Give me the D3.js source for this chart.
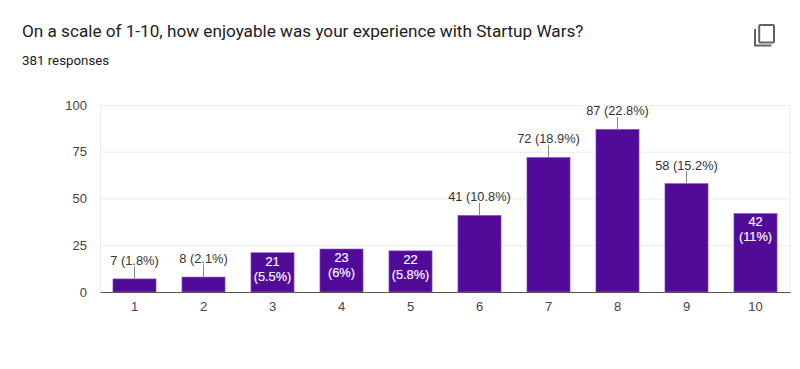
<!DOCTYPE html>
<html>
<head>
<meta charset="utf-8">
<script src="https://cdn.jsdelivr.net/npm/d3@7"></script>
<style>
  html, body { margin: 0; padding: 0; background: #fff; overflow: hidden; }
  text { font-family: "Liberation Sans", Arial, sans-serif; }
</style>
</head>
<body>
<div id="chart"></div>
<script>
const categories = ["1", "2", "3", "4", "5", "6", "7", "8", "9", "10"];
const counts = [7, 8, 21, 23, 22, 41, 72, 87, 58, 42];
const percents = ["1.8%", "2.1%", "5.5%", "6%", "5.8%", "10.8%", "18.9%", "22.8%", "15.2%", "11%"];
// these bars carry their label inside, on two lines
const insideLabels = ["3", "4", "5", "10"];
const yTicks = [0, 25, 50, 75, 100];

const width = 800;
const height = 369;
const margin = { top: 105, right: 10, bottom: 77, left: 100 };

const svg = d3
  .select("#chart")
  .append("svg")
  .attr("width", width)
  .attr("height", height)
  .style("display", "block");

const x = d3
  .scaleBand()
  .domain(categories)
  .range([margin.left, width - margin.right])
  .paddingInner(0.375)
  .paddingOuter(0.1875);

const y = d3
  .scaleLinear()
  .domain([0, 100])
  .range([height - margin.bottom, margin.top]);

// heading
svg
  .append("text")
  .attr("x", 22)
  .attr("y", 37)
  .style("font-family", "Roboto, sans-serif")
  .attr("font-size", 17.15)
  .attr("fill", "#202124")
  .text("On a scale of 1-10, how enjoyable was your experience with Startup Wars?");

svg
  .append("text")
  .attr("x", 22)
  .attr("y", 65)
  .style("font-family", "Roboto, sans-serif")
  .attr("font-size", 13.3)
  .attr("fill", "#202124")
  .text("381 responses");

// copy icon
const icon = svg.append("g").attr("transform", "translate(754,24)");
icon
  .append("rect")
  .attr("x", 5.2)
  .attr("y", 1)
  .attr("width", 14.8)
  .attr("height", 17.5)
  .attr("rx", 1)
  .attr("fill", "none")
  .attr("stroke", "#5f6368")
  .attr("stroke-width", 2);
icon
  .append("path")
  .attr("d", "M1,5V21.5H17.5")
  .attr("fill", "none")
  .attr("stroke", "#5f6368")
  .attr("stroke-width", 2);

// gridlines and y axis
const yAxis = svg
  .append("g")
  .attr("transform", `translate(${margin.left},0)`)
  .call(
    d3
      .axisLeft(y)
      .tickValues(yTicks)
      .tickSize(-(width - margin.left - margin.right))
      .tickPadding(13)
  );
yAxis.select(".domain").attr("stroke", "#ebebeb");
yAxis.selectAll(".tick line").attr("stroke", "#ebebeb");
yAxis
  .selectAll(".tick text")
  .attr("font-size", 13)
  .attr("fill", "#444")
  .style("font-family", '"Liberation Sans", Arial, sans-serif');

// right edge of the plot
svg
  .append("line")
  .attr("x1", width - margin.right)
  .attr("x2", width - margin.right)
  .attr("y1", y(100))
  .attr("y2", y(0))
  .attr("stroke", "#ebebeb");

const rows = categories.map((c, i) => ({
  category: c,
  count: counts[i],
  percent: percents[i],
  inside: insideLabels.includes(c),
}));

// bars
svg
  .selectAll("rect.bar")
  .data(rows)
  .enter()
  .append("rect")
  .attr("class", "bar")
  .attr("x", (d) => x(d.category))
  .attr("y", (d) => y(d.count))
  .attr("width", x.bandwidth())
  .attr("height", (d) => y(0) - y(d.count))
  .attr("fill", "#520a99")
  .attr("stroke", "#8e63c4")
  .attr("stroke-width", 0.6);

// x axis
const xAxis = svg
  .append("g")
  .attr("transform", `translate(0,${y(0)})`)
  .call(d3.axisBottom(x).tickSize(0).tickPadding(10));
xAxis.select(".domain").attr("stroke", "#555").attr("stroke-width", 1.2);
xAxis
  .selectAll(".tick text")
  .attr("font-size", 13)
  .attr("fill", "#444")
  .style("font-family", '"Liberation Sans", Arial, sans-serif');

// labels above short/tall bars, with a small stem
const outside = rows.filter((d) => !d.inside);
svg
  .selectAll("line.stem")
  .data(outside)
  .enter()
  .append("line")
  .attr("class", "stem")
  .attr("x1", (d) => x(d.category) + x.bandwidth() / 2)
  .attr("x2", (d) => x(d.category) + x.bandwidth() / 2)
  .attr("y1", (d) => y(d.count))
  .attr("y2", (d) => y(d.count) - 12.5)
  .attr("stroke", "#888");

svg
  .selectAll("text.outside")
  .data(outside)
  .enter()
  .append("text")
  .attr("class", "outside")
  .attr("x", (d) => x(d.category) + x.bandwidth() / 2)
  .attr("y", (d) => y(d.count) - 14)
  .attr("text-anchor", "middle")
  .attr("font-size", 12.8)
  .attr("fill", "#333")
  .text((d) => `${d.count} (${d.percent})`);

// labels inside the bar, two lines
const insideText = svg
  .selectAll("text.inside")
  .data(rows.filter((d) => d.inside))
  .enter()
  .append("text")
  .attr("class", "inside")
  .attr("text-anchor", "middle")
  .attr("font-size", 12.8)
  .attr("stroke", "#fff")
  .attr("stroke-width", 0.15)
  .attr("fill", "#fff");
insideText
  .append("tspan")
  .attr("x", (d) => x(d.category) + x.bandwidth() / 2)
  .attr("y", (d) => y(d.count) + 13)
  .text((d) => d.count);
insideText
  .append("tspan")
  .attr("x", (d) => x(d.category) + x.bandwidth() / 2)
  .attr("y", (d) => y(d.count) + 28)
  .text((d) => `(${d.percent})`);
</script>
</body>
</html>
